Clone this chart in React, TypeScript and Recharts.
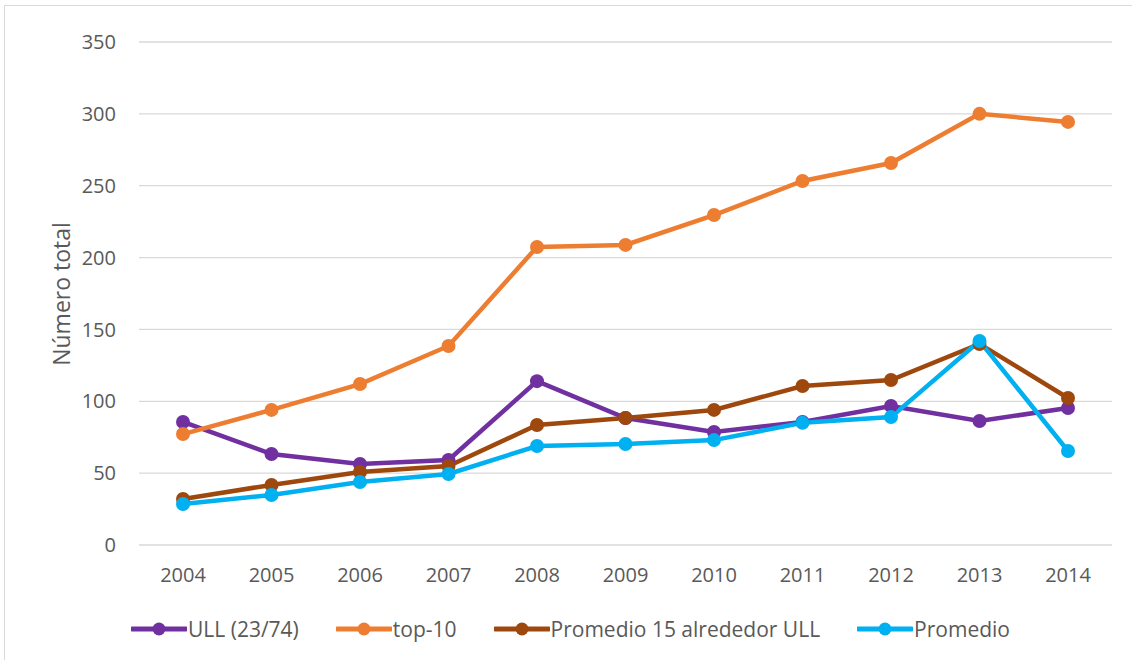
import { CartesianGrid, Legend, Line, LineChart, XAxis, YAxis } from 'recharts';

const years = ['2004', '2005', '2006', '2007', '2008', '2009', '2010', '2011', '2012', '2013', '2014'];
const ull = [85.6, 63.3, 56.4, 59.2, 114, 88.4, 78.6, 85.6, 96.7, 86.3, 95.3];
const top10 = [77.2, 94, 112, 138.5, 207.4, 208.8, 229.6, 253.3, 265.8, 300, 294.4];
const promedio15 = [32, 41.8, 50.8, 55, 83.5, 88.4, 94, 110.6, 114.8, 139.9, 102.3];
const promedio = [28.5, 34.8, 43.8, 49.4, 68.9, 70.3, 73, 85, 89, 142, 65.4];
const yTicks = [0, 50, 100, 150, 200, 250, 300, 350];

const series = [
  { dataKey: 'ull', name: 'ULL (23/74)', color: '#7030A0', values: ull },
  { dataKey: 'top10', name: 'top-10', color: '#ED7D31', values: top10 },
  { dataKey: 'p15', name: 'Promedio 15 alrededor ULL', color: '#9E480E', values: promedio15 },
  { dataKey: 'prom', name: 'Promedio', color: '#00B0F0', values: promedio },
];

const data = years.map((year, i) => {
  const row: Record<string, string | number> = { year };
  series.forEach((s) => {
    row[s.dataKey] = s.values[i];
  });
  return row;
});

const FONT = '"Open Sans", "Noto Sans", sans-serif';
const TEXT = '#595959';

// legend in series order (recharts would sort it by name)
function LegendContent() {
  return (
    <div style={{ display: 'flex', alignItems: 'center', height: 40, paddingLeft: 131, fontFamily: FONT }}>
      {series.map((s) => (
        <div key={s.dataKey} style={{ display: 'flex', alignItems: 'center', marginRight: 37 }}>
          <svg width={56} height={16}>
            <line x1={1} y1={8} x2={55} y2={8} stroke={s.color} strokeWidth={5} strokeLinecap="round" />
            <circle cx={28} cy={8} r={6.5} fill={s.color} />
          </svg>
          <span style={{ fontSize: 21, color: TEXT, marginLeft: 1 }}>{s.name}</span>
        </div>
      ))}
    </div>
  );
}

function YLabel() {
  return (
    <text
      x={61}
      y={294}
      transform="rotate(-90 61 294)"
      textAnchor="middle"
      dominantBaseline="central"
      fill={TEXT}
      fontSize={23}
      fontFamily={FONT}
    >
      Número total
    </text>
  );
}

export default function App() {
  return (
    <div style={{ position: 'absolute', left: 0, top: 0, width: 1132, height: 660, background: '#fff' }}>
      <div
        style={{
          position: 'absolute',
          left: 4,
          top: 5,
          right: 0,
          bottom: 0,
          borderTop: '1.5px solid #D9D9D9',
          borderLeft: '1.5px solid #D9D9D9',
        }}
      />
      <LineChart width={1132} height={660} data={data} margin={{ top: 42, right: 20, left: 0, bottom: 11 }}>
        <CartesianGrid vertical={false} stroke="#D9D9D9" strokeWidth={1.3} />
        <XAxis
          dataKey="year"
          height={64}
          padding={{ left: 44, right: 44 }}
          axisLine={false}
          tickLine={false}
          tickMargin={17}
          tick={{ fontSize: 20, fill: TEXT, fontFamily: FONT }}
        />
        <YAxis
          width={139}
          domain={[0, 350]}
          ticks={yTicks}
          axisLine={false}
          tickLine={false}
          tickMargin={17}
          tick={{ fontSize: 20, fill: TEXT, fontFamily: FONT }}
          label={<YLabel />}
        />
        <Legend
          verticalAlign="bottom"
          height={40}
          wrapperStyle={{ left: 0, width: 1132 }}
          content={<LegendContent />}
        />
        {series.map((s) => (
          <Line
            key={s.dataKey}
            type="linear"
            dataKey={s.dataKey}
            name={s.name}
            stroke={s.color}
            strokeWidth={4.5}
            dot={{ r: 7, fill: s.color, stroke: s.color, strokeWidth: 0 }}
            activeDot={false}
            isAnimationActive={false}
          />
        ))}
      </LineChart>
    </div>
  );
}
